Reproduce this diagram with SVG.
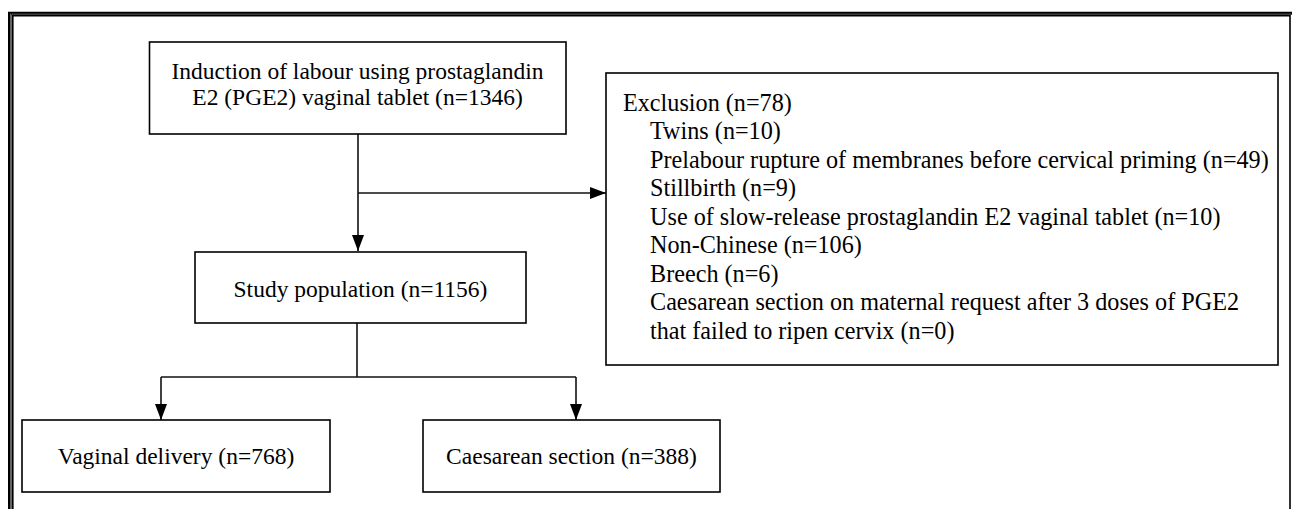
<svg xmlns="http://www.w3.org/2000/svg" width="1292" height="509" viewBox="0 0 1292 509">
<defs>
<style>
.box{fill:#fff;stroke:#000;stroke-width:1.6}
.t{font-family:"Liberation Serif","Times New Roman",serif;font-size:23.5px;fill:#000}
.x{font-size:24.2px}
.c{text-anchor:middle}
.ln{fill:none;stroke:#111;stroke-width:1.6}
.fr{fill:none;stroke:#000}
</style>
<marker id="ah" viewBox="0 0 16 12" refX="16" refY="6" markerWidth="16" markerHeight="12" markerUnits="userSpaceOnUse" orient="auto">
<path d="M0,0 L16,6 L0,12 Z" fill="#000"/>
</marker>
</defs>
<rect width="1292" height="509" fill="#fff"/>
<g id="frame">
<path class="fr" stroke-width="2" d="M9,509 V12.8 H1292"/>
<path class="fr" stroke-width="1.2" stroke="#999" d="M11,509 V14.2 H1292"/>
<path class="fr" stroke-width="1.6" d="M12.8,509 V15.8 H1290 V509"/>
</g>
<g id="connectors">
<path class="ln" d="M358,134 V251" marker-end="url(#ah)"/>
<path class="ln" d="M358,193 H606" marker-end="url(#ah)"/>
<path class="ln" d="M357,323 V377"/>
<path class="ln" d="M161,377 H576"/>
<path class="ln" d="M161,377 V420" marker-end="url(#ah)"/>
<path class="ln" d="M576,377 V420" marker-end="url(#ah)"/>
</g>
<g id="induction">
<rect class="box" x="149.5" y="42" width="416.5" height="92"/>
<text class="t c" x="357.5" y="79">Induction of labour using prostaglandin</text>
<text class="t c" x="357.5" y="105">E2 (PGE2) vaginal tablet (n=1346)</text>
</g>
<g id="exclusion">
<rect class="box" x="606" y="73" width="672" height="292"/>
<text class="t x" x="623" y="110.5">Exclusion (n=78)</text>
<text class="t x" x="650" y="139">Twins (n=10)</text>
<text class="t x" x="650" y="167.5">Prelabour rupture of membranes before cervical priming (n=49)</text>
<text class="t x" x="650" y="196">Stillbirth (n=9)</text>
<text class="t x" x="650" y="224.5">Use of slow-release prostaglandin E2 vaginal tablet (n=10)</text>
<text class="t x" x="650" y="253">Non-Chinese (n=106)</text>
<text class="t x" x="650" y="281.5">Breech (n=6)</text>
<text class="t x" x="650" y="310">Caesarean section on maternal request after 3 doses of PGE2</text>
<text class="t x" x="650" y="338.5">that failed to ripen cervix (n=0)</text>
</g>
<g id="study">
<rect class="box" x="195" y="252" width="331" height="71"/>
<text class="t c" x="360.5" y="297">Study population (n=1156)</text>
</g>
<g id="vaginal">
<rect class="box" x="22" y="420" width="308" height="72"/>
<text class="t c" x="176" y="464">Vaginal delivery (n=768)</text>
</g>
<g id="caesarean">
<rect class="box" x="423" y="420" width="297" height="72"/>
<text class="t c" x="571.5" y="464">Caesarean section (n=388)</text>
</g>
</svg>
